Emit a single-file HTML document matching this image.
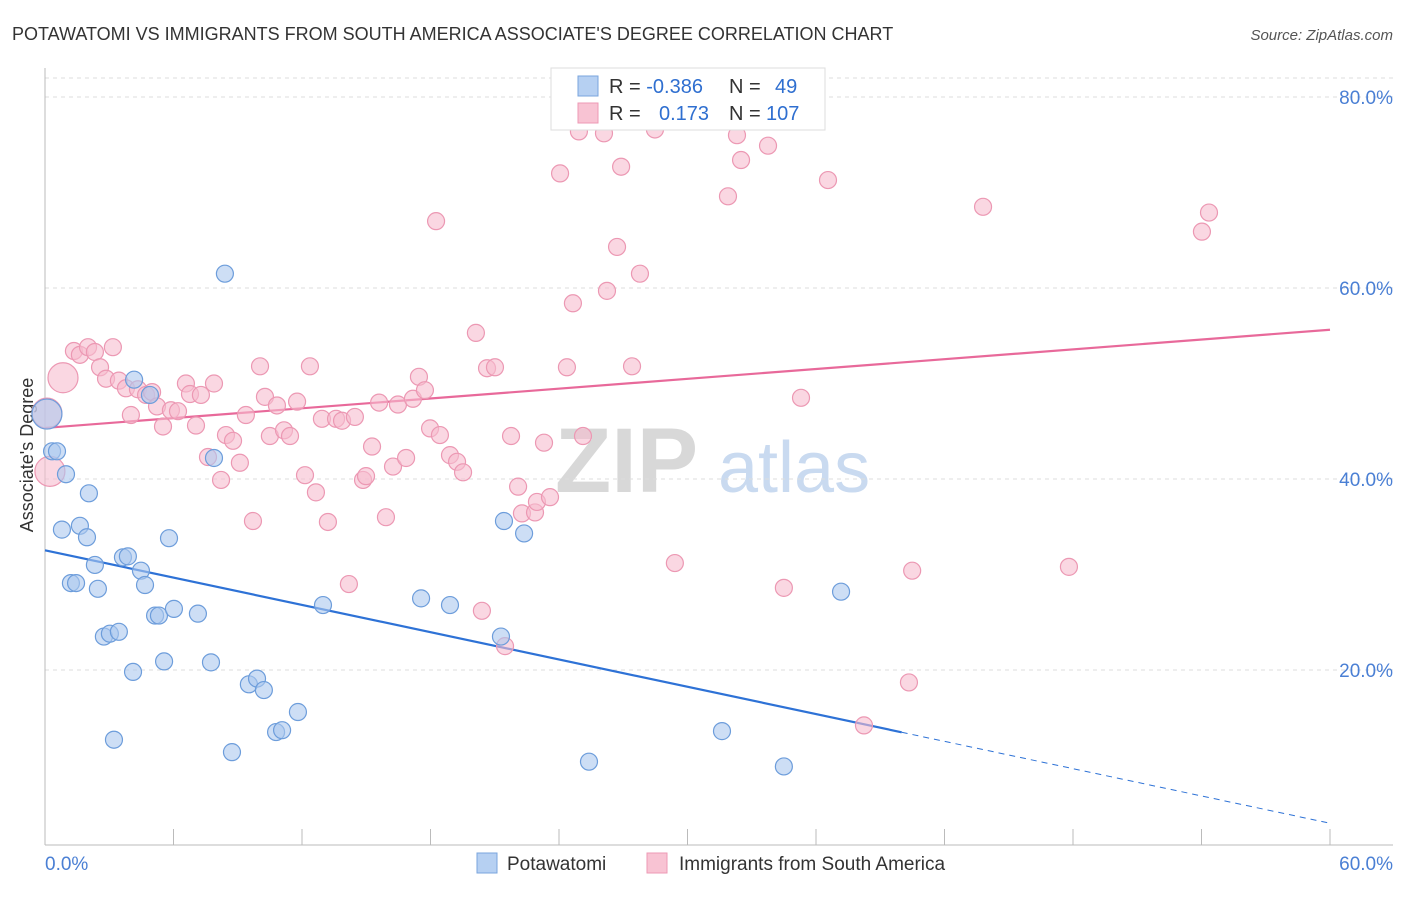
<!DOCTYPE html>
<html><head><meta charset="utf-8"><style>
body{margin:0;background:#fff;font-family:"Liberation Sans",sans-serif;}
svg text{font-family:"Liberation Sans",sans-serif;}
</style></head><body>
<svg id="chart" width="1406" height="892" xmlns="http://www.w3.org/2000/svg">
<text x="12" y="40" font-size="18" fill="#333">POTAWATOMI VS IMMIGRANTS FROM SOUTH AMERICA ASSOCIATE'S DEGREE CORRELATION CHART</text>
<text x="1393" y="40" font-size="15" fill="#555" font-style="italic" text-anchor="end">Source: ZipAtlas.com</text>
<text x="33" y="455" font-size="18" fill="#333" text-anchor="middle" transform="rotate(-90 33 455)">Associate's Degree</text>
<g>
<text x="555" y="492" font-size="92" fill="#d8d8d8" font-family="Liberation Serif" font-weight="bold">ZIP</text>
<text x="718" y="492" font-size="72" fill="#c9daf0">atlas</text></g>
<g id="grid"></g><g id="axes"></g><g id="lines"></g><g id="points"></g>
<g>
<rect x="551" y="68" width="274" height="62" fill="#fff" stroke="#ddd"/>
<rect x="578" y="76" width="20" height="20" fill="#b6d0f2" stroke="#7aa5dd"/>
<rect x="578" y="103" width="20" height="20" fill="#f8c3d3" stroke="#ee9ab4"/>
<text x="609" y="93" font-size="20" fill="#333">R = <tspan fill="#2f6fd0">-0.386</tspan><tspan x="729">N = </tspan><tspan fill="#2f6fd0" x="775">49</tspan></text>
<text x="609" y="120" font-size="20" fill="#333">R = <tspan fill="#2f6fd0" x="659">0.173</tspan><tspan x="729">N = </tspan><tspan fill="#2f6fd0" x="766">107</tspan></text>
</g>
<g>
<rect x="477" y="853" width="20" height="20" fill="#b6d0f2" stroke="#7aa5dd"/>
<text x="507" y="870" font-size="19" fill="#333">Potawatomi</text>
<rect x="647" y="853" width="20" height="20" fill="#f8c3d3" stroke="#ee9ab4"/>
<text x="679" y="870" font-size="19" fill="#333">Immigrants from South America</text>
</g>
</svg>
<script>
const yTicks=[20,40,60,80];
const yTickLabels=["20.0%","40.0%","60.0%","80.0%"];
const xTickCount=10;
const xLabels=["0.0%","60.0%"];
const blueX=[0.09,0.33,0.56,0.98,0.79,1.63,1.96,2.05,1.21,1.45,2.33,2.47,2.75,3.03,3.45,3.64,3.87,4.48,4.67,4.16,4.90,4.11,5.14,5.32,6.02,5.79,5.56,7.14,7.75,7.89,8.40,9.52,9.90,10.22,8.73,10.79,11.07,11.81,3.22,12.98,17.56,18.91,21.29,21.43,22.37,25.40,31.61,34.50,37.17];
const blueY=[46.8,42.9,42.9,40.5,34.7,35.1,33.9,38.5,29.1,29.1,31.0,28.5,23.5,23.8,24.0,31.8,31.9,30.4,28.9,50.4,48.8,19.8,25.7,25.7,26.4,33.8,20.9,25.9,20.8,42.2,61.5,18.5,19.1,17.9,11.4,13.5,13.7,15.6,12.7,26.8,27.5,26.8,23.5,35.6,34.3,10.4,13.6,9.9,28.2];
const pinkX=[0.09,0.23,0.84,1.35,1.63,2.01,2.33,2.57,2.85,3.17,3.45,3.78,4.01,4.34,4.72,5.00,5.23,5.51,5.88,6.21,6.58,6.77,7.05,7.28,7.61,7.89,8.22,8.45,8.78,9.10,9.38,9.71,10.04,10.27,10.50,10.83,11.16,11.44,11.77,12.14,12.37,12.65,12.93,13.21,13.59,13.87,14.19,14.47,14.85,14.99,15.27,15.60,15.92,16.25,16.48,16.86,17.18,17.46,17.74,17.98,18.44,18.91,19.24,19.52,
18.26,20.12,20.64,21.01,20.40,21.48,21.76,22.09,22.27,22.88,22.97,23.30,23.58,24.05,24.37,24.65,24.93,25.12,26.10,26.24,26.71,26.90,27.41,27.78,28.48,29.41,31.89,32.31,32.50,33.76,34.50,35.30,36.56,38.24,40.34,40.49,43.80,47.81,54.02,54.35];
const pinkY=[46.9,40.8,50.6,53.4,53.0,53.8,53.3,51.7,50.5,53.8,50.3,49.5,46.7,49.4,48.8,49.1,47.6,45.5,47.2,47.1,50.0,48.9,45.6,48.8,42.3,50.0,39.9,44.6,44.0,41.7,46.7,35.6,51.8,48.6,44.5,47.7,45.1,44.5,48.1,40.4,51.8,38.6,46.3,35.5,46.3,46.1,29.0,46.5,39.9,40.3,43.4,48.0,36.0,41.3,47.8,42.2,48.4,50.7,49.3,45.3,44.6,42.5,41.8,40.7,
67.0,55.3,51.6,51.7,26.2,22.5,44.5,39.2,36.4,36.5,37.6,43.8,38.1,72.0,51.7,58.4,76.4,44.5,76.2,59.7,64.3,72.7,51.8,61.5,76.6,31.2,69.6,76.0,73.4,74.9,28.6,48.5,71.3,14.2,18.7,30.4,68.5,30.8,65.9,67.9];
const pinkBig=[0,1,2];const blueBig=[0];
const X0=45,X1=1330,Y0=861,PY=191/20;
const xs=v=>X0+(X1-X0)*v/60, ys=v=>Y0-v*PY;
const NS="http://www.w3.org/2000/svg";
function mk(t,a,p){const e=document.createElementNS(NS,t);for(const k in a)e.setAttribute(k,a[k]);document.getElementById(p).appendChild(e);return e;}
mk("line",{x1:45,x2:1393,y1:78,y2:78,stroke:"#ddd","stroke-dasharray":"4,4"},"grid");
yTicks.forEach((t,i)=>{
 const l=mk("line",{x1:45,x2:1393,y1:ys(t),y2:ys(t),stroke:"#ddd","stroke-dasharray":"4,4"},"grid");
 
 
 const tx=mk("text",{x:1393,y:ys(t)+7,"font-size":19,fill:"#4a7fd4","text-anchor":"end"},"axes");
 tx.textContent=yTickLabels[i];
 
 
});
mk("line",{x1:45,x2:45,y1:68,y2:845,stroke:"#bbb"},"axes");
mk("line",{x1:45,x2:1393,y1:845,y2:845,stroke:"#bbb"},"axes");
for(let i=0;i<=xTickCount;i++){const x=xs(i*6);
 const t=mk("line",{x1:x,x2:x,y1:829,y2:845,stroke:"#bbb"},"axes");
 
 }
let a=mk("text",{x:45,y:870,"font-size":19,fill:"#4a7fd4"},"axes");a.textContent=xLabels[0];


a=mk("text",{x:1393,y:870,"font-size":19,fill:"#4a7fd4","text-anchor":"end"},"axes");a.textContent=xLabels[1];


function pts(X,Y,big,fill,stroke,name){X.forEach((x,i)=>{
 const c=mk("circle",{cx:xs(x),cy:ys(Y[i]),r:big.includes(i)?15:8.5,fill:fill,"fill-opacity":0.6,stroke:stroke,"stroke-width":1.2},"points");
 
 });}
pts(pinkX,pinkY,pinkBig,"#f7bccf","#ec98b3","point-immigrants");
pts(blueX,blueY,blueBig,"#abc8ef","#6d9ddb","point-potawatomi");
function fit(X,Y){const n=X.length;let mx=0,my=0;X.forEach((x,i)=>{mx+=x;my+=Y[i];});mx/=n;my/=n;let sxy=0,sxx=0;X.forEach((x,i)=>{sxy+=(x-mx)*(Y[i]-my);sxx+=(x-mx)**2;});const b=sxy/sxx;return [my-b*mx,b];}
let [ba,bb]=fit(blueX,blueY);let [pa,pb]=fit(pinkX,pinkY);
let l=mk("line",{x1:xs(0),y1:ys(ba),x2:xs(40),y2:ys(ba+bb*40),stroke:"#2e72d6","stroke-width":2.2},"lines");


l=mk("line",{x1:xs(40),y1:ys(ba+bb*40),x2:xs(60),y2:ys(ba+bb*60),stroke:"#2e72d6","stroke-width":1,"stroke-dasharray":"6,5"},"lines");


l=mk("line",{x1:xs(0),y1:ys(pa),x2:xs(60),y2:ys(pa+pb*60),stroke:"#e8699a","stroke-width":2.2},"lines");


</script>
</body></html>
